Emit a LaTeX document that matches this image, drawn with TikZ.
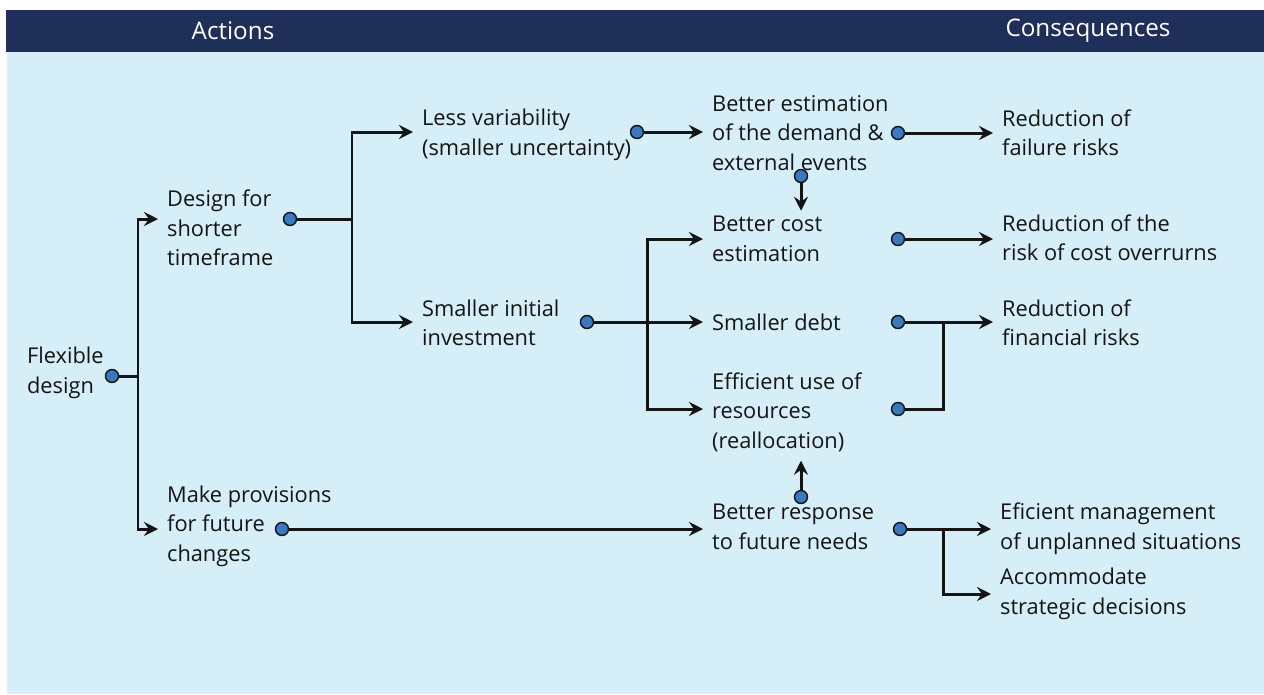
\documentclass[tikz,border=0pt]{standalone}
\usepackage{fontspec}
\setmainfont{Open Sans}
\usetikzlibrary{positioning,arrows.meta,calc}
\definecolor{barblue}{HTML}{1F2F5A}
\definecolor{bgblue}{HTML}{D6EEF8}
\definecolor{dotblue}{HTML}{3A78C0}
\definecolor{txt}{HTML}{141414}
\tikzset{
	lbl/.style={anchor=west,align=left,inner xsep=5pt,inner ysep=0pt,text=txt,
		font=\fontsize{12.4}{16.8}\selectfont},
	head/.style={text=white,font=\fontsize{13.8}{15}\selectfont},
	dot/.style={circle,draw=txt,fill=dotblue,line width=0.8pt,minimum size=7.4pt,inner sep=0pt},
	conn/.style={line width=1.7pt,draw=txt},
	arr/.style={conn,-{Stealth[length=8pt,width=8pt,inset=2.8pt]}}
}
\begin{document}
\begin{tikzpicture}[x=0.02cm,y=-0.02cm]
	\useasboundingbox (0,0) rectangle (1264,694);
	\fill[bgblue] (7,52) rectangle (1264,694);
	\fill[barblue] (6,10) rectangle (1264,52);
	\node[head] (acts) at (233,31) {Actions};
	\node[head] (cons) at (1088,31) {Consequences};
	% actions
	\node[lbl] (flex) at (18,373) {Flexible\\design};
	\node[lbl] (design) at (158,228) {Design for\\shorter\\timeframe};
	\node[lbl] (provis) at (158,526) {Make provisions\\for future\\changes};
	\node[lbl] (lessvar) at (413,135) {Less variability\\(smaller uncertainty)};
	\node[lbl] (sinv) at (413,323) {Smaller initial\\investment};
	\node[lbl] (best) at (703,133) {Better estimation\\of the demand \&\\external events};
	\node[lbl] (bcost) at (703,239) {Better cost\\estimation};
	\node[lbl] (sdebt) at (703,322) {Smaller debt};
	\node[lbl] (effuse) at (703,412) {Efficient use of\\resources\\(reallocation)};
	\node[lbl] (bresp) at (703,527) {Better response\\to future needs};
	% consequences
	\node[lbl] (redfail) at (993,133) {Reduction of\\failure risks};
	\node[lbl] (redcost) at (993,238) {Reduction of the\\risk of cost overrurns};
	\node[lbl] (redfin) at (993,323) {Reduction of\\financial risks};
	\node[lbl] (effman) at (991,529) {Eficient management\\of unplanned situations};
	\node[lbl] (accom) at (991,594) {Accommodate\\strategic decisions};
	% dots
	\node[dot] (dflex) at (112,376) {};
	\node[dot] (ddesign) at (290,219) {};
	\node[dot] (dprovis) at (282,529) {};
	\node[dot] (dless) at (637,132) {};
	\node[dot] (dsinv) at (587,322) {};
	\node[dot] (dbest) at (898,133) {};
	\node[dot] (dbestdn) at (801,176) {};
	\node[dot] (dbcost) at (898,239) {};
	\node[dot] (dsdebt) at (898,322) {};
	\node[dot] (deffuse) at (898,409) {};
	\node[dot] (dbresp) at (900,529) {};
	\node[dot] (dbrespup) at (801,497) {};
	\coordinate (jflex) at (138,376);
	\coordinate (jdesign) at (352,219);
	\coordinate (jsinv) at (647,322);
	\coordinate (jfin) at (943,322);
	\coordinate (jresp) at (943,529);
	% connectors
	\draw[conn] (dflex) -- (jflex);
	\draw[arr] (jflex) |- (design.west |- ddesign);
	\draw[arr] (jflex) |- (provis.west |- dprovis);
	\draw[conn] (ddesign) -- (jdesign);
	\draw[arr] (jdesign) |- (lessvar.west |- dless);
	\draw[arr] (jdesign) |- (sinv.west |- dsinv);
	\draw[arr] (dless) -- (best.west |- dless);
	\draw[arr] (dbest) -- (redfail.west |- dbest);
	\draw[arr] (dbestdn) -- ([yshift=3pt]bcost.north -| dbestdn);
	\draw[conn] (dsinv) -- (jsinv);
	\draw[arr] (jsinv) -- (sdebt.west);
	\draw[arr] (jsinv) |- (bcost.west);
	\draw[arr] (jsinv) |- (effuse.west |- deffuse);
	\draw[arr] (dbcost) -- (redcost.west |- dbcost);
	\draw[conn] (dsdebt) -- (jfin);
	\draw[conn] (deffuse) -| (jfin);
	\draw[arr] (jfin) -- (redfin.west |- dsdebt);
	\draw[arr] (dprovis) -- (bresp.west |- dprovis);
	\draw[arr] (dbrespup) -- ([yshift=-5pt]effuse.south -| dbrespup);
	\draw[conn] (dbresp) -- (jresp);
	\draw[arr] (jresp) -- (effman.west |- dbresp);
	\draw[arr] (jresp) |- (accom.west);
\end{tikzpicture}
\end{document}
